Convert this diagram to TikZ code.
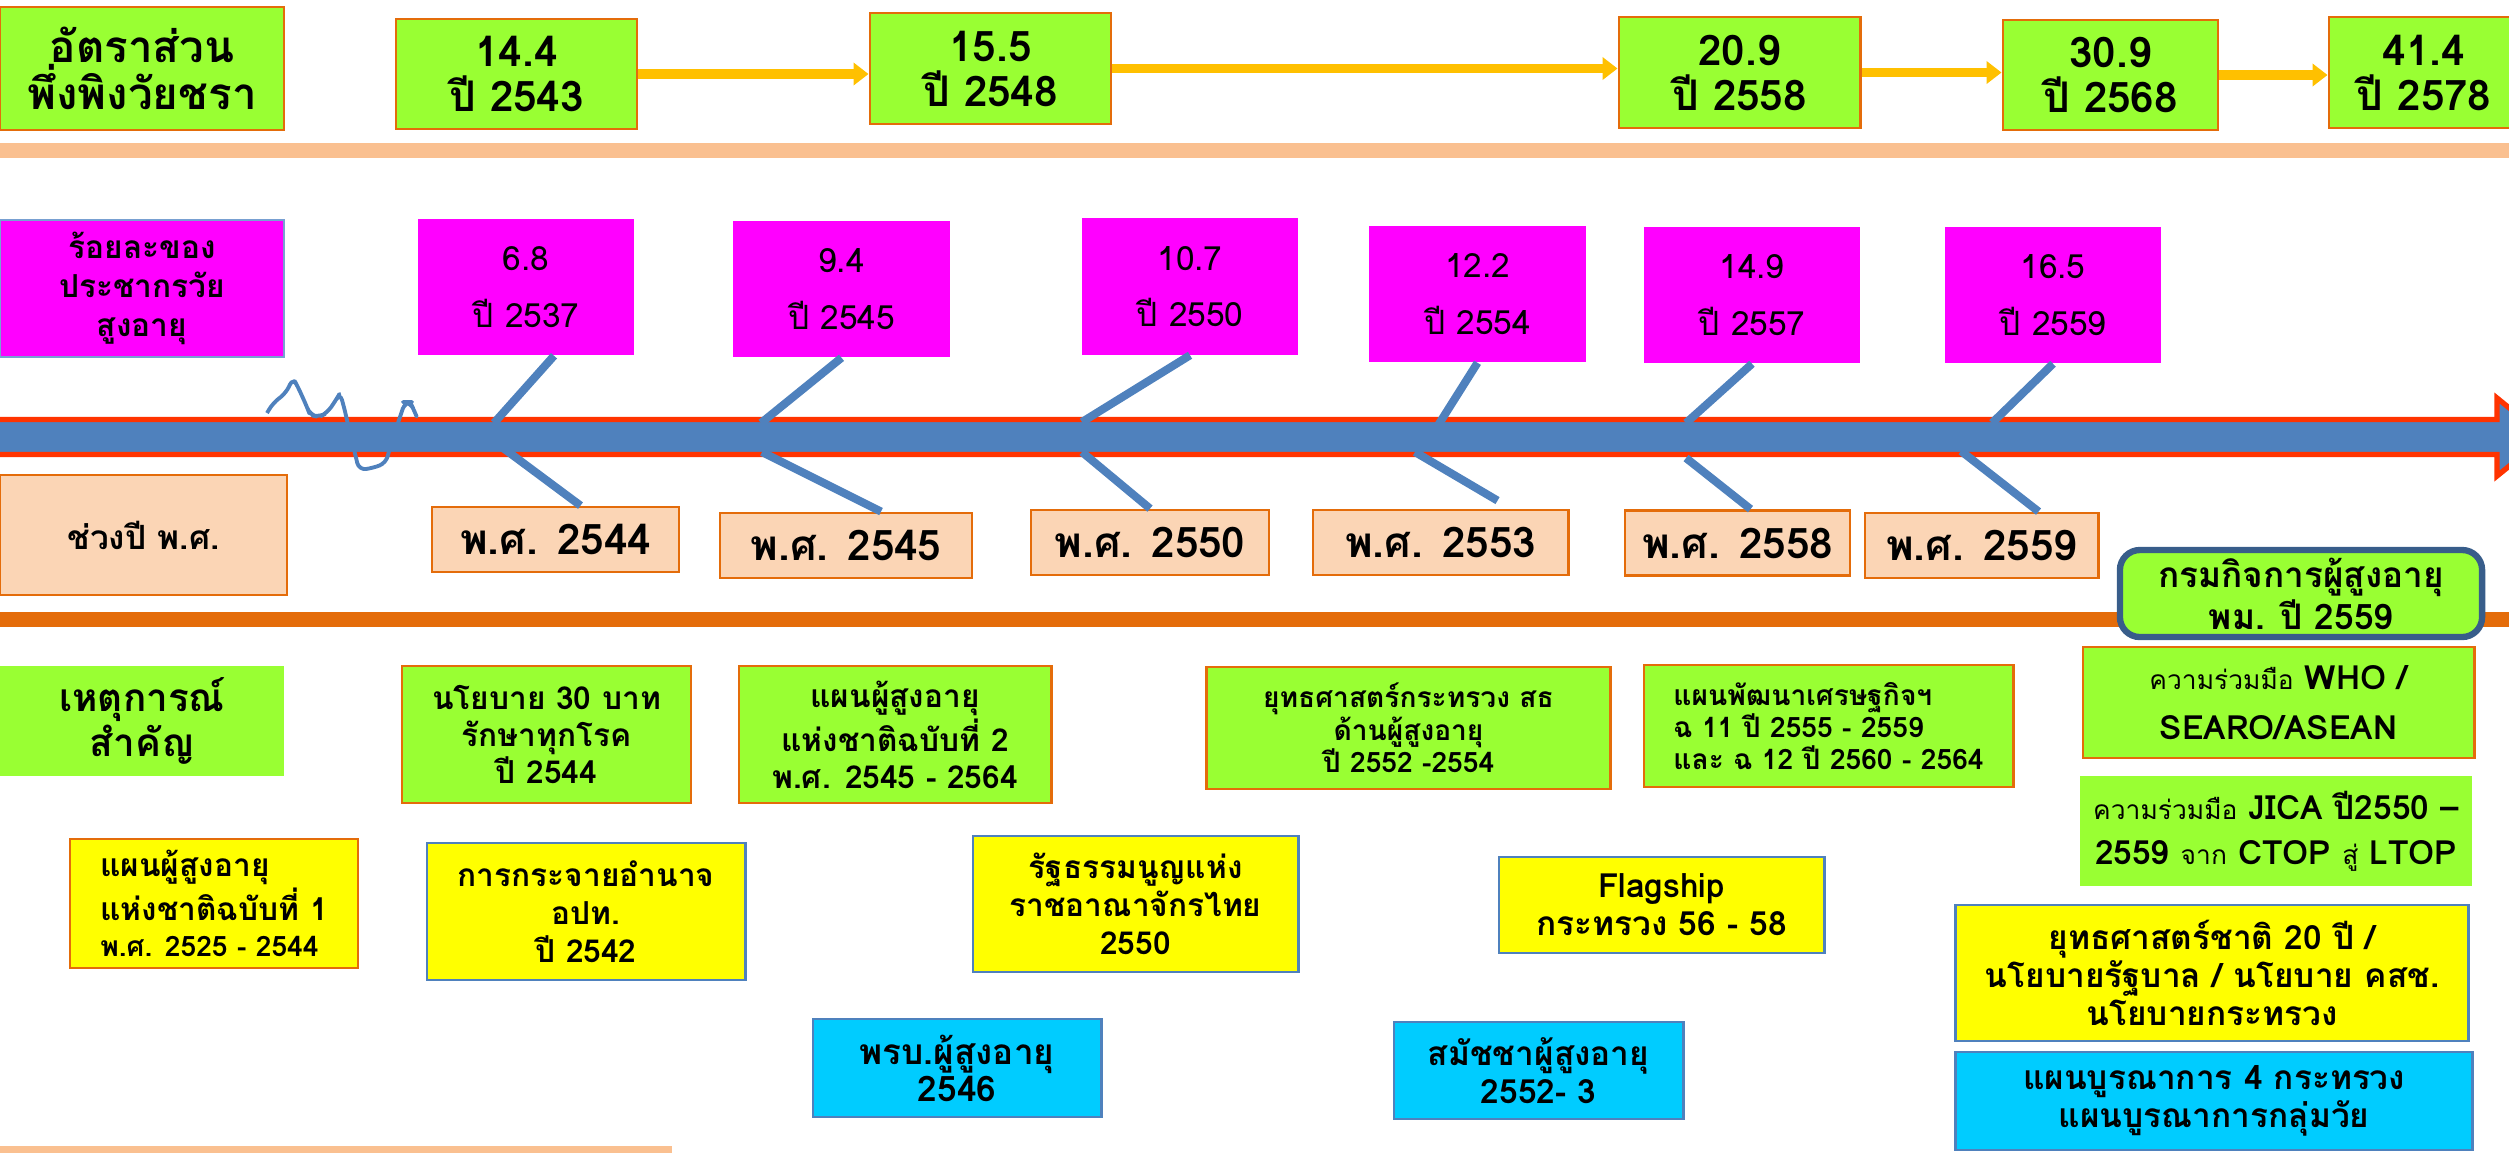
\documentclass[tikz,border=0pt]{standalone}
\usepackage{fontspec}
\setmainfont{Loma}[Script=Thai]
\usetikzlibrary{arrows.meta, positioning}

\definecolor{lgreen}{RGB}{153,255,51}
\definecolor{borange}{RGB}{228,108,10}
\definecolor{pfill}{RGB}{251,213,181}
\definecolor{pband}{RGB}{250,192,144}
\definecolor{bblue}{RGB}{79,129,189}
\definecolor{tred}{RGB}{255,51,0}
\definecolor{ayellow}{RGB}{255,192,0}
\definecolor{cfill}{RGB}{0,204,255}
\definecolor{dblue}{RGB}{56,93,138}
\definecolor{lblue}{RGB}{120,160,210}
\definecolor{pmag}{RGB}{255,0,255}
\definecolor{pyel}{RGB}{255,255,0}

\newcommand{\regtxt}[1]{{\mdseries\fontsize{7.5}{9}\selectfont #1}}

\begin{document}
\begin{tikzpicture}[x=0.01cm, y=-0.01cm, >=Stealth,
  cell/.style={inner sep=0pt, align=center},
  rate/.style={cell, draw=borange, fill=lgreen, line width=0.8pt, font=\fontsize{12}{12.8}\selectfont\bfseries},
  pct/.style={cell, fill=pmag, minimum width=2.16cm, minimum height=1.36cm, font=\fontsize{9.5}{11}\selectfont},
  yr/.style={cell, draw=borange, fill=pfill, line width=0.8pt, minimum height=0.65cm, font=\fontsize{12}{13}\selectfont\bfseries},
  ev/.style={cell, draw=borange, fill=lgreen, line width=0.8pt, font=\fontsize{9}{10.5}\selectfont\bfseries},
  law/.style={cell, draw=bblue, fill=pyel, line width=0.8pt, font=\fontsize{9}{10.8}\selectfont\bfseries},
  act/.style={cell, draw=bblue, fill=cfill, line width=0.8pt, font=\fontsize{9.5}{10.8}\selectfont\bfseries},
  rise/.style={->, ayellow, line width=2.8pt, arrows={-Triangle[length=0.15cm, width=0.22cm]}},
  bone/.style={bblue, line width=2.3pt}]
\useasboundingbox (0,0) rectangle (2509,1153);

% bands
\fill[pband] (0,143) rectangle (2509,158);
\fill[borange] (0,612) rectangle (2509,627);
\fill[pband] (0,1146) rectangle (672,1153);

% time line
\draw[tred, line width=1.5pt, fill=bblue] (-10,419.5) -- (2497,419.5) -- (2497,398) -- (2545,437)
  -- (2497,476) -- (2497,454.5) -- (-10,454.5) -- cycle;
\draw[bblue, line width=1.1pt, line join=round, rounded corners=2pt]
  (267,413) -- (273,403) -- (286,393) -- (293,378) -- (298,387) -- (307,407) -- (310,415)
  -- (319,417) -- (327,413) -- (336,400) -- (340,393) -- (344,407) -- (350,433) -- (359,470)
  -- (373,468) -- (386,463) -- (390,447) -- (399,420) -- (405,402) -- (410,402) -- (414,410) -- (416,415);

% old-age dependency ratio
\node[rate, minimum width=2.84cm, minimum height=1.23cm, font=\fontsize{12.5}{13.5}\selectfont\bfseries] (ratio) at (142,68.5) {อัตราส่วน\\พึ่งพิงวัยชรา};
\node[rate, minimum width=2.41cm, minimum height=1.10cm] (b1) at (516.5,74) {14.4\\ปี 2543};
\node[rate, minimum width=2.41cm, minimum height=1.11cm] (b2) at (990.5,68.5) {15.5\\ปี 2548};
\node[rate, minimum width=2.41cm, minimum height=1.11cm] (b3) at (1739.5,72.5) {20.9\\ปี 2558};
\node[rate, minimum width=2.15cm, minimum height=1.10cm] (b4) at (2110.5,75) {30.9\\ปี 2568};
\node[rate, minimum width=1.90cm, minimum height=1.11cm] (b5) at (2424,72.5) {41.4\\ปี 2578};
\draw[rise] (b1.east) -- (b1.east -| b2.west);
\draw[rise] (b2.east) -- (b2.east -| b3.west);
\draw[rise] (b3.east) -- (b3.east -| b4.west);
\draw[rise] (b4.east) -- (b4.east -| b5.west);

% share of elderly population
\node[pct, draw=lblue, line width=0.8pt, minimum width=2.84cm, minimum height=1.37cm, font=\fontsize{9}{11}\selectfont\bfseries] (share) at (142,288.5) {ร้อยละของ\\ประชากรวัย\\สูงอายุ};
\node[pct] (m1) at (526,287) {6.8\\[5pt]ปี 2537};
\node[pct] (m2) at (841.5,289) {9.4\\[5pt]ปี 2545};
\node[pct] (m3) at (1190,286.5) {10.7\\[5pt]ปี 2550};
\node[pct] (m4) at (1477.5,294) {12.2\\[5pt]ปี 2554};
\node[pct] (m5) at (1752,295) {14.9\\[5pt]ปี 2557};
\node[pct] (m6) at (2053,295) {16.5\\[5pt]ปี 2559};

% year span
\node[yr, minimum width=2.87cm, minimum height=1.20cm, font=\fontsize{9.5}{11}\selectfont\bfseries] (span) at (143.5,535) {ช่วงปี พ.ศ.};
\node[yr, minimum width=2.47cm] (p1) at (555.5,539.5) {พ.ศ. 2544};
\node[yr, minimum width=2.52cm] (p2) at (846,545.5) {พ.ศ. 2545};
\node[yr, minimum width=2.38cm] (p3) at (1150,542.5) {พ.ศ. 2550};
\node[yr, minimum width=2.55cm] (p4) at (1440.5,542.5) {พ.ศ. 2553};
\node[yr, minimum width=2.25cm] (p5) at (1737.5,543) {พ.ศ. 2558};
\node[yr, minimum width=2.33cm] (p6) at (1981.5,545.5) {พ.ศ. 2559};

% fishbone
\coordinate (u1) at (494,423);  \coordinate (l1) at (495,442);
\coordinate (u2) at (761,423);  \coordinate (l2) at (762,452);
\coordinate (u3) at (1082,422); \coordinate (l3) at (1082,452);
\coordinate (u4) at (1437,427); \coordinate (l4) at (1415,452);
\coordinate (u5) at (1686,423); \coordinate (l5) at (1686,458);
\coordinate (u6) at (1992,423); \coordinate (l6) at (1961,451);
\draw[bone] ([xshift=0.28cm]m1.south) -- (u1);
\draw[bone] (m2.south) -- (u2);
\draw[bone] (m3.south) -- (u3);
\draw[bone] (m4.south) -- (u4);
\draw[bone] (m5.south) -- (u5);
\draw[bone] (m6.south) -- (u6);
\draw[bone] (l1) -- ([xshift=0.25cm]p1.north);
\draw[bone] (l2) -- ([xshift=0.35cm]p2.north);
\draw[bone] (l3) -- (p3.north);
\draw[bone] (l4) -- ([xshift=0.57cm, yshift=0.08cm]p4.north);
\draw[bone] (l5) -- ([xshift=0.13cm]p5.north);
\draw[bone] (l6) -- ([xshift=0.57cm]p6.north);

\node[cell, draw=dblue, line width=1.8pt, rounded corners=0.2cm, fill=lgreen, minimum width=3.62cm, minimum height=0.87cm, font=\fontsize{10}{12}\selectfont\bfseries] (dop) at (2301,593.5) {กรมกิจการผู้สูงอายุ\\พม. ปี 2559};

% key events
\node[cell, fill=lgreen, minimum width=2.84cm, minimum height=1.10cm, font=\fontsize{11}{13}\selectfont\bfseries] (event) at (142,721) {เหตุการณ์\\สำคัญ};
\node[ev, minimum width=2.89cm, minimum height=1.37cm] (e1) at (546.5,734.5) {นโยบาย 30 บาท\\รักษาทุกโรค\\ปี 2544};
\node[ev, minimum width=3.12cm, minimum height=1.37cm] (e2) at (895,734.5) {แผนผู้สูงอายุ\\แห่งชาติฉบับที่ 2\\พ.ศ. 2545 - 2564};
\node[ev, minimum width=4.03cm, minimum height=1.22cm, font=\fontsize{8}{9.2}\selectfont\bfseries] (e3) at (1408.5,728) {ยุทธศาสตร์กระทรวง สธ\\ด้านผู้สูงอายุ\\ปี 2552 -2554};
\node[ev, minimum width=3.69cm, minimum height=1.22cm, align=left, font=\fontsize{8}{9.2}\selectfont\bfseries] (e4) at (1828.5,726) {แผนพัฒนาเศรษฐกิจฯ\\ฉ 11 ปี 2555 - 2559\\และ ฉ 12 ปี 2560 - 2564};
\node[ev, minimum width=3.91cm, minimum height=1.11cm, font=\fontsize{9.5}{14}\selectfont\bfseries] (who) at (2278.5,702.5) {\regtxt{ความร่วมมือ} WHO /\\SEARO/ASEAN};
\node[ev, draw=none, minimum width=3.92cm, minimum height=1.10cm, font=\fontsize{9.5}{12.8}\selectfont\bfseries] (jica) at (2276,831) {\regtxt{ความร่วมมือ} JICA ปี2550 --\\2559 \regtxt{จาก} CTOP \regtxt{สู่} LTOP};

\node[law, draw=borange, minimum width=2.88cm, minimum height=1.29cm, align=left, font=\fontsize{9}{10.2}\selectfont\bfseries] (plan1) at (214,903.5) {แผนผู้สูงอายุ\\แห่งชาติฉบับที่ 1\\{\fontsize{8}{9}\selectfont พ.ศ. 2525 - 2544}};
\node[law, minimum width=3.18cm, minimum height=1.37cm] (decen) at (586,911.5) {การกระจายอำนาจ\\อปท.\\ปี 2542};
\node[law, minimum width=3.25cm, minimum height=1.36cm] (const) at (1135.5,904) {รัฐธรรมนูญแห่ง\\ราชอาณาจักรไทย\\2550};
\node[law, minimum width=3.25cm, minimum height=0.96cm, font=\fontsize{9.5}{10.8}\selectfont\bfseries] (flag) at (1661.5,905) {Flagship\\กระทรวง 56 - 58};
\node[law, minimum width=5.12cm, minimum height=1.36cm, font=\fontsize{9.5}{10.8}\selectfont\bfseries] (strat) at (2212,973) {ยุทธศาสตร์ชาติ 20 ปี /\\นโยบายรัฐบาล / นโยบาย คสช.\\นโยบายกระทรวง};

\node[act, minimum width=2.88cm, minimum height=0.98cm, font=\fontsize{10}{10.5}\selectfont\bfseries] (actold) at (957,1068) {พรบ.ผู้สูงอายุ\\2546};
\node[act, minimum width=2.89cm, minimum height=0.97cm] (assem) at (1538.5,1070.5) {สมัชชาผู้สูงอายุ\\2552- 3};
\node[act, minimum width=5.16cm, minimum height=0.98cm] (integ) at (2214,1101) {แผนบูรณาการ 4 กระทรวง\\แผนบูรณาการกลุ่มวัย};
\end{tikzpicture}
\end{document}
